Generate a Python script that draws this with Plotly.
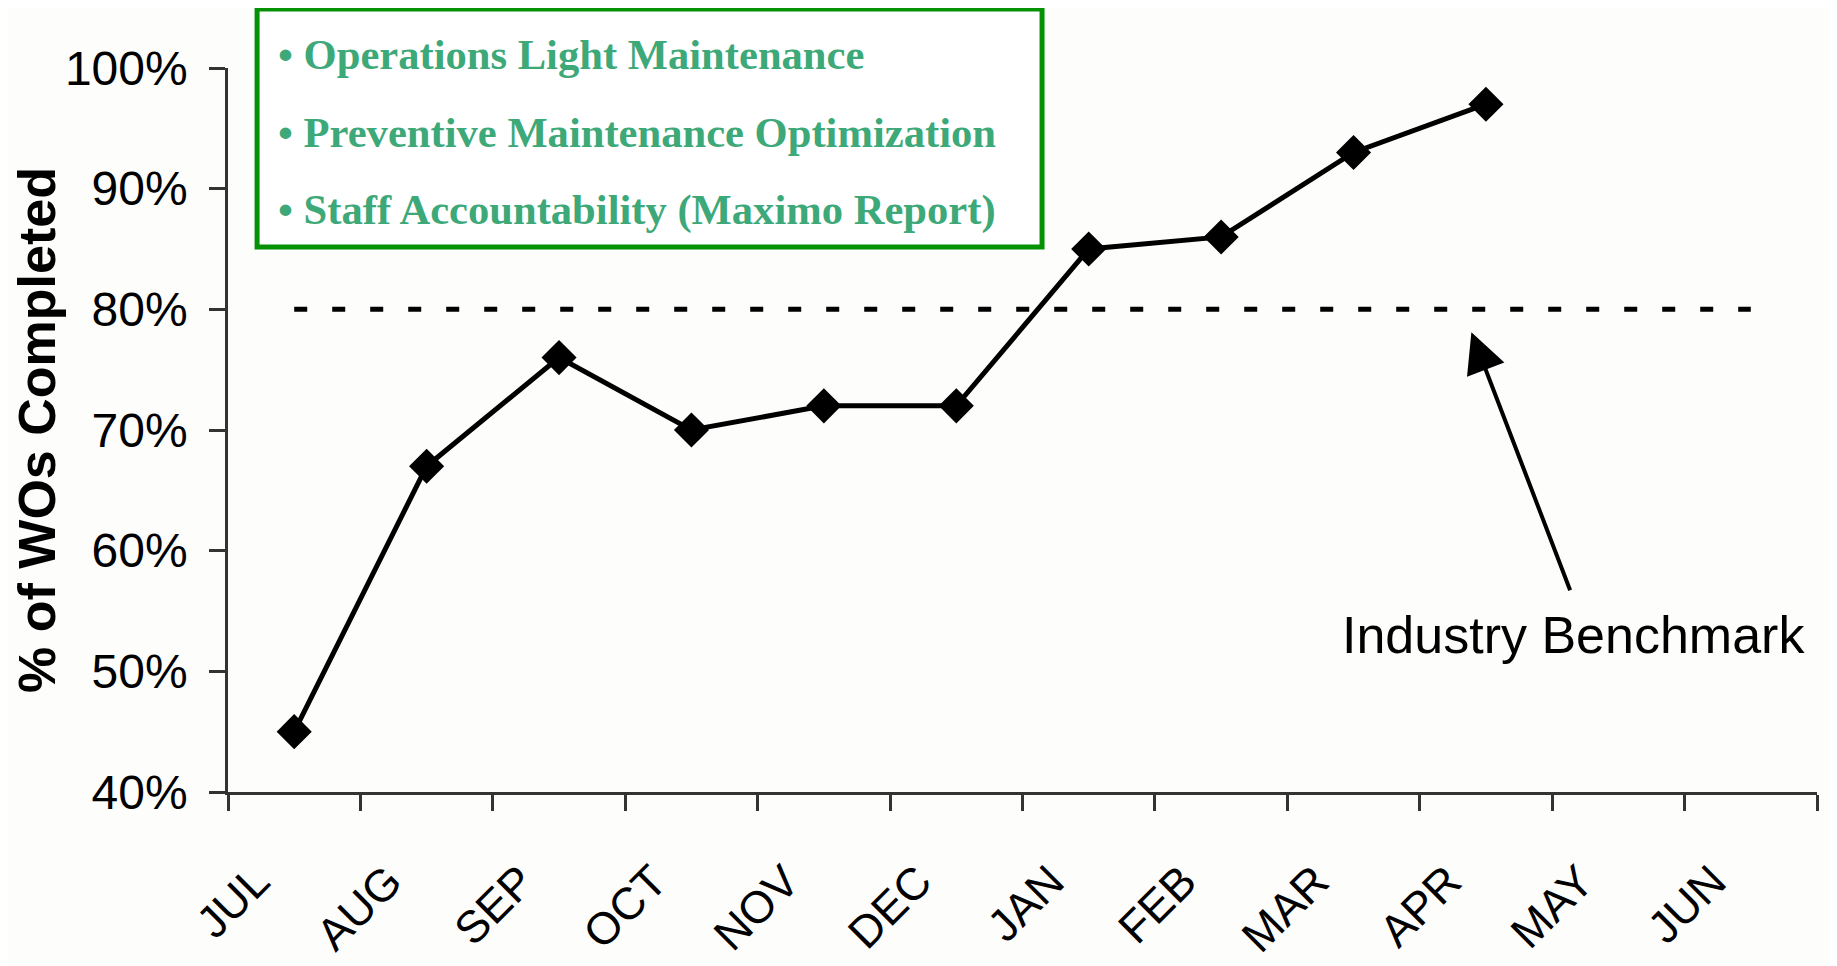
import plotly.graph_objects as go

months = ["JUL", "AUG", "SEP", "OCT", "NOV", "DEC", "JAN", "FEB", "MAR", "APR", "MAY", "JUN"]
completed_pct = [45, 67, 76, 70, 72, 72, 85, 86, 93, 97]
benchmark_pct = 80
y_ticks = [40, 50, 60, 70, 80, 90, 100]
bullets = [
    "Operations Light Maintenance",
    "Preventive Maintenance Optimization",
    "Staff Accountability (Maximo Report)",
]

fig = go.Figure()

# Industry benchmark dashed line
fig.add_trace(go.Scatter(
    x=months, y=[benchmark_pct] * len(months),
    mode="lines",
    line=dict(color="black", width=5, dash="13px,25px"),
    showlegend=False, hoverinfo="skip",
))

# Completed work orders
fig.add_trace(go.Scatter(
    x=months[:len(completed_pct)], y=completed_pct,
    mode="lines+markers",
    line=dict(color="black", width=5),
    marker=dict(symbol="diamond", size=27, color="black"),
    showlegend=False,
))

axis_color = "#333333"

fig.update_xaxes(
    type="category",
    categoryorder="array", categoryarray=months,
    range=[-0.5, len(months) - 0.5],
    showline=True, linecolor=axis_color, linewidth=2.5,
    ticks="outside", tickson="boundaries", ticklen=16, tickwidth=2.5, tickcolor=axis_color,
    tickangle=-45,
    tickfont=dict(family="Liberation Sans, Arial, sans-serif", size=45, color="black"),
    ticklabelstandoff=42, ticklabelshift=-38,
    showgrid=False, zeroline=False, automargin=False,
)

fig.update_yaxes(
    range=[40, 100],
    tickvals=y_ticks, ticktext=[f"{v}%" for v in y_ticks],
    showline=True, linecolor=axis_color, linewidth=2.5,
    ticks="outside", ticklen=16, tickwidth=2.5, tickcolor=axis_color,
    tickfont=dict(family="Liberation Sans, Arial, sans-serif", size=48, color="black"),
    ticklabelstandoff=12,
    showgrid=False, zeroline=False, automargin=False,
    title=dict(text="<b>% of WOs Completed</b>",
               font=dict(family="Liberation Sans, Arial, sans-serif", size=52, color="black"),
               standoff=10),
)

# Green bordered box with bullet text
fig.add_shape(
    type="rect", xref="paper", yref="paper",
    x0=0.0183, x1=0.5123, y0=0.7528, y1=1.0815,
    line=dict(color="#049104", width=5), fillcolor="white", layer="above",
)
bullet_y = [1.0193, 0.9116, 0.8039]
for txt, yy in zip(bullets, bullet_y):
    fig.add_annotation(
        xref="paper", yref="paper", x=0.0305, y=yy,
        xanchor="left", yanchor="middle", showarrow=False,
        text=f"<b>• {txt}</b>",
        font=dict(family="Liberation Serif, Times New Roman, serif", size=42.6, color="#3DA878"),
    )

# Industry benchmark arrow (head near the benchmark line) and label
fig.add_annotation(
    x=8.89, y=benchmark_pct - 1.9, xref="x", yref="y",
    ax=9.64, ay=benchmark_pct - 23.4, axref="x", ayref="y",
    showarrow=True, arrowhead=2, arrowsize=2.0, arrowwidth=4, arrowcolor="black",
    text="", standoff=0, startstandoff=0,
)
fig.add_annotation(
    x=9.66, y=benchmark_pct - 27, xref="x", yref="y",
    xanchor="center", yanchor="middle", showarrow=False,
    text="Industry Benchmark",
    font=dict(family="Liberation Sans, Arial, sans-serif", size=52, color="black"),
)

# Page body has an 8px margin: shrink the figure so the plot lands where the reference has it
fig.update_layout(
    width=1829, height=958,
    margin=dict(l=220, r=20, t=60, b=174),
    paper_bgcolor="#fdfdfc", plot_bgcolor="#fdfdfc",
)

fig.write_html("out.html")
